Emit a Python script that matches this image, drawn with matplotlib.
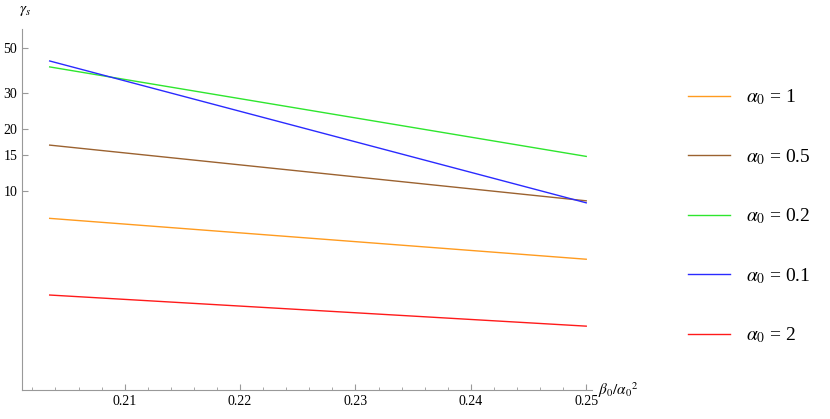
import matplotlib
matplotlib.use("Agg")
import matplotlib.pyplot as plt
from matplotlib.lines import Line2D

plt.rcParams["font.family"] = "Liberation Serif"
plt.rcParams["mathtext.fontset"] = "stix"

# data (lines are straight on the log scale)
x_ends = [0.2035, 0.25]
labels = ["1", "0.5", "0.2", "0.1", "2"]
colors = ["#ff9b1f", "#9b6230", "#2ee62e", "#2a2aff", "#ff1a1a"]
y_orange = [7.3, 4.6]
y_brown = [16.7, 8.9]
y_green = [40.4, 14.7]
y_blue = [43.2, 8.7]
y_red = [3.07, 2.16]
series = [y_orange, y_brown, y_green, y_blue, y_red]
yticks = [10, 15, 20, 30, 50]
xticks = [0.21, 0.22, 0.23, 0.24, 0.25]

fig = plt.figure(figsize=(8.3, 4.19), dpi=100)
ax = fig.add_axes([22 / 830, 29 / 419, 570 / 830, 361 / 419])
for ys, c in zip(series, colors):
    ax.plot(x_ends, ys, color=c, lw=1)
ax.set_yscale("log")
ax.set_ylim(1.05, 62)
ax.set_xlim(0.2011, 0.2505)
ax.set_yticks(yticks)
ax.set_yticklabels([str(t) for t in yticks])
ax.yaxis.set_minor_locator(matplotlib.ticker.NullLocator())
ax.set_xticks(xticks)
ax.set_xticklabels([f"{t:.2f}" for t in xticks])
ax.xaxis.set_minor_locator(matplotlib.ticker.MultipleLocator(0.002))
for s in ["top", "right"]:
    ax.spines[s].set_visible(False)
for s in ["left", "bottom"]:
    ax.spines[s].set_color("#999999")
ax.tick_params(labelsize=10, color="#999999", direction="in", length=4)
ax.tick_params(which="minor", color="#999999", direction="in", length=2)
ax.text(1.01, 0.0, r"$\beta_0/\alpha_0{}^2$", transform=ax.transAxes,
        fontsize=11, va="center", ha="left")
ax.text(-0.005, 1.03, r"$\gamma_s$", transform=ax.transAxes,
        fontsize=11, va="bottom", ha="left")

handles = [Line2D([], [], color=c, lw=1) for c in colors]
fig.legend(handles, [r"$\alpha_0$ = " + l for l in labels],
           loc="upper left", bbox_to_anchor=(670 / 830, 1 - 70 / 419),
           frameon=False, fontsize=14, labelspacing=2.05,
           handlelength=2.2, handletextpad=0.8)

fig.savefig("out.png", dpi=100)
